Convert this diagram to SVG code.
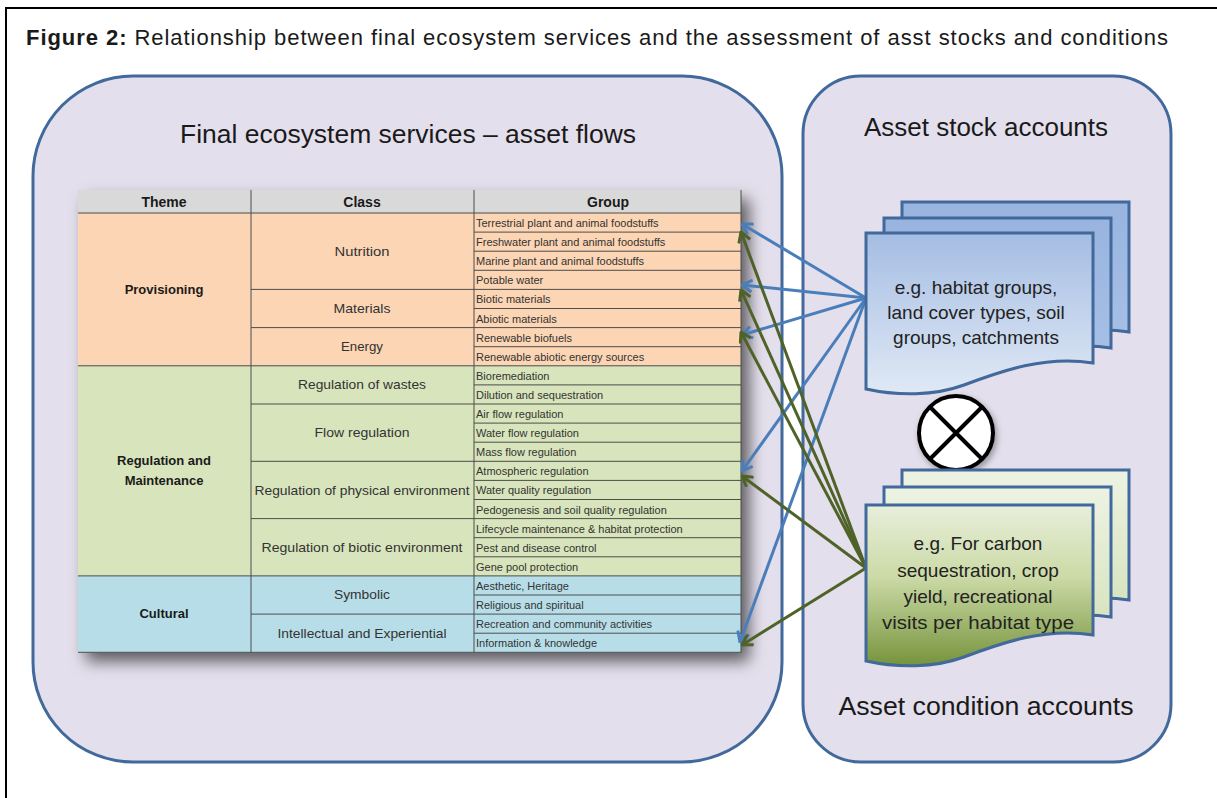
<svg xmlns="http://www.w3.org/2000/svg" width="1217" height="798" viewBox="0 0 1217 798">
<style>
text{font-family:"Liberation Sans",Arial,sans-serif;fill:#1a1a1a}
.big{font-size:25px}
.hdr{font-size:14px;font-weight:bold;text-anchor:middle}
.th{font-size:13px;font-weight:bold;text-anchor:middle}
.cl{font-size:13.5px;text-anchor:middle;fill:#333}
.gr{font-size:11px;fill:#333}
.doc{font-size:19px;text-anchor:middle;fill:#222}
.grid{stroke:#4d4d4d;stroke-width:1;fill:none}
.box{fill:#e4dfec;stroke:#41699b;stroke-width:3}
.sheet{stroke:#41699b;stroke-width:3}
.blue{stroke:#4a7ebb;stroke-width:3;fill:none}
.green{stroke:#4f6228;stroke-width:3;fill:none}
</style>
<defs>
<linearGradient id="bF" x1="0" y1="0" x2="0" y2="1"><stop offset="0" stop-color="#a5bde3"/><stop offset="1" stop-color="#e0e9f5"/></linearGradient>
<linearGradient id="bB" x1="0" y1="0" x2="0" y2="1"><stop offset="0" stop-color="#98b4df"/><stop offset="1" stop-color="#a9c1e6"/></linearGradient>
<linearGradient id="gF" x1="0" y1="0" x2="0" y2="1"><stop offset="0" stop-color="#e8efdb"/><stop offset="0.45" stop-color="#cbdaa6"/><stop offset="1" stop-color="#76933c"/></linearGradient>
<linearGradient id="gB" x1="0" y1="0" x2="0" y2="1"><stop offset="0" stop-color="#edf3e3"/><stop offset="1" stop-color="#d3e1b8"/></linearGradient>
<path id="docShape" d="M0,0 H227 V130 C180,122 135,138 98,152 C68,163 32,163 0,156 Z"/>
<filter id="shadow" x="-5%" y="-5%" width="115%" height="120%">
<feDropShadow dx="8" dy="9" stdDeviation="8" flood-color="#000" flood-opacity="0.6"/>
</filter>
<filter id="cshadow" x="-20%" y="-20%" width="150%" height="150%">
<feDropShadow dx="2" dy="3" stdDeviation="3" flood-color="#000" flood-opacity="0.35"/>
</filter>
<marker id="ab" viewBox="0 0 12 14" refX="11" refY="7" markerWidth="12" markerHeight="14" markerUnits="userSpaceOnUse" orient="auto">
<path d="M1,1 L11,7 L1,13" fill="none" stroke="#4a7ebb" stroke-width="3"/>
</marker>
<marker id="ag" viewBox="0 0 12 14" refX="11" refY="7" markerWidth="12" markerHeight="14" markerUnits="userSpaceOnUse" orient="auto">
<path d="M1,1 L11,7 L1,13" fill="none" stroke="#4f6228" stroke-width="3"/>
</marker>
</defs>

<rect x="0" y="0" width="1217" height="798" fill="#ffffff"/>
<rect x="6" y="8" width="1230" height="810" fill="none" stroke="#000" stroke-width="2"/>
<text x="26" y="45" font-size="22" textLength="1142" lengthAdjust="spacing"><tspan font-weight="bold">Figure 2:</tspan> Relationship between final ecosystem services and the assessment of asst stocks and conditions</text>

<g id="flows-box">
<rect class="box" x="33" y="76" width="749" height="686" rx="100" ry="100"/>
<text class="big" x="408" y="143" text-anchor="middle" textLength="456" lengthAdjust="spacingAndGlyphs">Final  ecosystem services – asset flows</text>
</g>

<g id="accounts-box">
<rect class="box" x="803" y="76" width="368" height="686" rx="58" ry="58"/>
<text class="big" x="986" y="136" text-anchor="middle" textLength="244" lengthAdjust="spacingAndGlyphs">Asset stock accounts</text>
<text class="big" x="986" y="715" text-anchor="middle" textLength="295" lengthAdjust="spacingAndGlyphs">Asset condition accounts</text>
</g>

<g id="table">
<g filter="url(#shadow)">
<rect x="78" y="190" width="663" height="23" fill="#d9d9d9"/>
<rect x="78" y="213" width="663" height="152.8" fill="#fcd5b4"/>
<rect x="78" y="365.8" width="663" height="210.1" fill="#d8e4bc"/>
<rect x="78" y="575.9" width="663" height="76.4" fill="#b7dee8"/>
</g>
<path class="grid" d="M78,213 H741 M78,365.8 H741 M78,575.9 H741 M78,652.3 H741 M251,190 V652.3 M474,190 V652.3 M741,190 V652.3
M251,289.4 H741 M251,327.6 H741 M251,404 H741 M251,461.3 H741 M251,518.6 H741 M251,614.1 H741
M474,232.1 H741 M474,251.2 H741 M474,270.3 H741 M474,308.5 H741 M474,346.7 H741 M474,384.9 H741 M474,423.1 H741 M474,442.2 H741 M474,480.4 H741 M474,499.5 H741 M474,537.7 H741 M474,556.8 H741 M474,595 H741 M474,633.2 H741"/>
<text class="hdr" x="164" y="207">Theme</text>
<text class="hdr" x="362" y="207">Class</text>
<text class="hdr" x="608" y="207">Group</text>
<text class="th" x="164" y="294">Provisioning</text>
<text class="th" x="164" y="465">Regulation and</text>
<text class="th" x="164" y="485">Maintenance</text>
<text class="th" x="164" y="618">Cultural</text>
<text class="cl" x="362" y="256" textLength="55" lengthAdjust="spacingAndGlyphs">Nutrition</text>
<text class="cl" x="362" y="313" textLength="57" lengthAdjust="spacingAndGlyphs">Materials</text>
<text class="cl" x="362" y="351" textLength="42" lengthAdjust="spacingAndGlyphs">Energy</text>
<text class="cl" x="362" y="389" textLength="128" lengthAdjust="spacingAndGlyphs">Regulation of wastes</text>
<text class="cl" x="362" y="437" textLength="95" lengthAdjust="spacingAndGlyphs">Flow regulation</text>
<text class="cl" x="362" y="495" textLength="215" lengthAdjust="spacingAndGlyphs">Regulation of physical environment</text>
<text class="cl" x="362" y="552" textLength="201" lengthAdjust="spacingAndGlyphs">Regulation of biotic environment</text>
<text class="cl" x="362" y="599" textLength="56" lengthAdjust="spacingAndGlyphs">Symbolic</text>
<text class="cl" x="362" y="638" textLength="169" lengthAdjust="spacingAndGlyphs">Intellectual and Experiential</text>
<g class="grt">
<text class="gr" x="476" y="227">Terrestrial plant and animal foodstuffs</text>
<text class="gr" x="476" y="246.1">Freshwater plant and animal foodstuffs</text>
<text class="gr" x="476" y="265.2">Marine plant and animal foodstuffs</text>
<text class="gr" x="476" y="284.3">Potable water</text>
<text class="gr" x="476" y="303.4">Biotic materials</text>
<text class="gr" x="476" y="322.5">Abiotic materials</text>
<text class="gr" x="476" y="341.6">Renewable biofuels</text>
<text class="gr" x="476" y="360.7">Renewable abiotic energy sources</text>
<text class="gr" x="476" y="379.8">Bioremediation</text>
<text class="gr" x="476" y="398.9">Dilution and sequestration</text>
<text class="gr" x="476" y="418">Air flow regulation</text>
<text class="gr" x="476" y="437.1">Water flow regulation</text>
<text class="gr" x="476" y="456.2">Mass flow regulation</text>
<text class="gr" x="476" y="475.3">Atmospheric regulation</text>
<text class="gr" x="476" y="494.4">Water quality regulation</text>
<text class="gr" x="476" y="513.5">Pedogenesis and soil quality regulation</text>
<text class="gr" x="476" y="532.6">Lifecycle maintenance &amp; habitat protection</text>
<text class="gr" x="476" y="551.7">Pest and disease control</text>
<text class="gr" x="476" y="570.8">Gene pool protection</text>
<text class="gr" x="476" y="589.9">Aesthetic, Heritage</text>
<text class="gr" x="476" y="609">Religious and spiritual</text>
<text class="gr" x="476" y="628.1">Recreation and community activities</text>
<text class="gr" x="476" y="647.2">Information &amp; knowledge</text>
</g>
</g>

<g id="connectors">
<line class="blue" x1="866" y1="298" x2="742" y2="224" marker-end="url(#ab)"/>
<line class="blue" x1="866" y1="298" x2="742" y2="285" marker-end="url(#ab)"/>
<line class="blue" x1="866" y1="298" x2="742" y2="335" marker-end="url(#ab)"/>
<line class="blue" x1="866" y1="298" x2="742" y2="471" marker-end="url(#ab)"/>
<line class="blue" x1="866" y1="298" x2="740" y2="642" marker-end="url(#ab)"/>
<line class="green" x1="866" y1="568" x2="741" y2="232" marker-end="url(#ag)"/>
<line class="green" x1="866" y1="568" x2="741" y2="290" marker-end="url(#ag)"/>
<line class="green" x1="866" y1="568" x2="741" y2="332" marker-end="url(#ag)"/>
<line class="green" x1="866" y1="568" x2="742" y2="476" marker-end="url(#ag)"/>
<line class="green" x1="866" y1="568" x2="742" y2="645" marker-end="url(#ag)"/>
</g>

<g id="stock-doc">
<use href="#docShape" class="sheet" fill="url(#bB)" transform="translate(902,202)"/>
<use href="#docShape" class="sheet" fill="url(#bB)" transform="translate(884,218)"/>
<use href="#docShape" class="sheet" fill="url(#bF)" transform="translate(866,233)"/>
<text class="doc" x="976" y="294">e.g. habitat groups,</text>
<text class="doc" x="976" y="319">land cover types,  soil</text>
<text class="doc" x="976" y="344">groups, catchments</text>
</g>

<g id="combine">
<circle cx="956" cy="433" r="37" fill="#fff" stroke="#000" stroke-width="4" filter="url(#cshadow)"/>
<path d="M930,407 L982,459 M982,407 L930,459" stroke="#000" stroke-width="4"/>
</g>

<g id="condition-doc">
<use href="#docShape" class="sheet" fill="url(#gB)" transform="translate(902,470)"/>
<use href="#docShape" class="sheet" fill="url(#gB)" transform="translate(884,487)"/>
<use href="#docShape" class="sheet" fill="url(#gF)" transform="translate(866,505)"/>
<text class="doc" x="978" y="550">e.g. For carbon</text>
<text class="doc" x="978" y="577">sequestration, crop</text>
<text class="doc" x="978" y="603">yield, recreational</text>
<text class="doc" x="978" y="629" textLength="192" lengthAdjust="spacingAndGlyphs">visits per habitat type</text>
</g>
</svg>
